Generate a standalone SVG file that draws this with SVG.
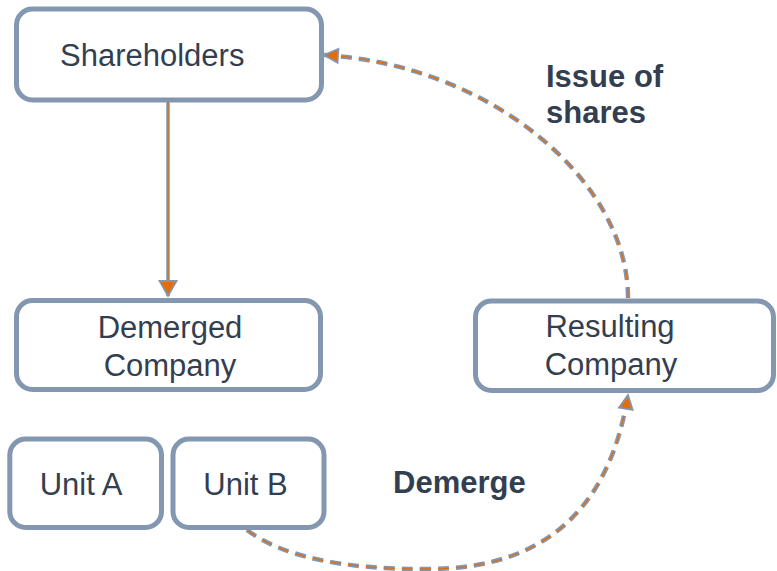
<svg xmlns="http://www.w3.org/2000/svg" width="777" height="571" viewBox="0 0 777 571">
<style>
.box{fill:#FFFFFF;stroke:#8497B0;stroke-width:5}
.t{font-family:"Liberation Sans",Arial,sans-serif;font-size:31px;fill:#333F50}
.b{font-weight:bold}
.lg{fill:none;stroke:#8497B0;stroke-width:4.5;stroke-dasharray:11 7}
.lo{fill:none;stroke:#E46C0A;stroke-width:1.3;stroke-dasharray:11 7}
.sg{fill:none;stroke:#8497B0;stroke-width:3.5}
.so{fill:none;stroke:#E46C0A;stroke-width:1.3}
</style>
<defs>
<marker id="ah" markerUnits="userSpaceOnUse" markerWidth="20" markerHeight="20" refX="14" refY="7" orient="auto" overflow="visible">
<polygon points="0,0 14,7 0,14" fill="#E46C0A" stroke="#8497B0" stroke-width="1.8" stroke-linejoin="miter"/>
</marker>
<marker id="ahb" markerUnits="userSpaceOnUse" markerWidth="20" markerHeight="20" refX="15" refY="8.5" orient="auto" overflow="visible">
<polygon points="0,0 15,8.5 0,17" fill="#E46C0A" stroke="#8497B0" stroke-width="1.8"/>
</marker>
</defs>
<g id="connectors">
<line class="sg" x1="168" y1="102" x2="168" y2="296"/>
<line class="so" x1="168" y1="102" x2="168" y2="296" marker-end="url(#ahb)"/>
<path class="lg" d="M628,298 C628,180 490,65 324,55"/>
<path class="lo" d="M628,298 C628,180 490,65 324,55" marker-end="url(#ah)"/>
<path class="lg" d="M247,530 Q300,570 430,569 Q600,568 628,395"/>
<path class="lo" d="M247,530 Q300,570 430,569 Q600,568 628,395" marker-end="url(#ah)"/>
</g>
<g id="shareholders">
<rect class="box" x="16.5" y="9" width="305" height="91" rx="16"/>
<text class="t" x="60" y="66">Shareholders</text>
</g>
<g id="demerged">
<rect class="box" x="16.5" y="300.5" width="304" height="89" rx="16"/>
<text class="t" x="170" y="338" text-anchor="middle">Demerged</text>
<text class="t" x="170" y="376" text-anchor="middle">Company</text>
</g>
<g id="resulting">
<rect class="box" x="475.5" y="301" width="298" height="89.5" rx="16"/>
<text class="t" x="610" y="337" text-anchor="middle">Resulting</text>
<text class="t" x="611" y="375" text-anchor="middle">Company</text>
</g>
<g id="unitA">
<rect class="box" x="9.8" y="439" width="151.7" height="88.5" rx="16"/>
<text class="t" x="81" y="495" text-anchor="middle">Unit A</text>
</g>
<g id="unitB">
<rect class="box" x="173" y="439" width="151" height="88.5" rx="16"/>
<text class="t" x="245.5" y="495" text-anchor="middle">Unit B</text>
</g>
<g id="labels">
<text class="t b" x="546" y="87">Issue of</text>
<text class="t b" x="546" y="123">shares</text>
<text class="t b" x="393" y="493">Demerge</text>
</g>
</svg>
